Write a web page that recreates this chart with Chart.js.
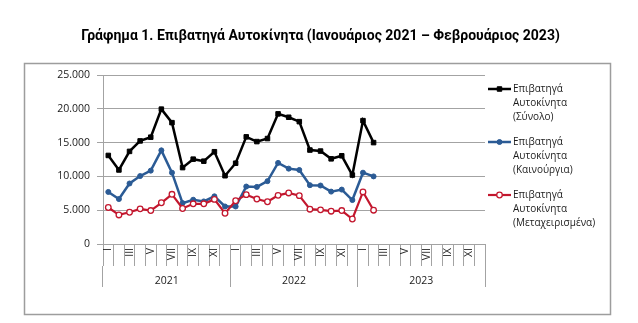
<!DOCTYPE html>
<html>
<head>
<meta charset="utf-8">
<script src="https://cdn.jsdelivr.net/npm/chart.js@4/dist/chart.umd.min.js"></script>
<style>
  html, body { margin: 0; padding: 0; background: #fff; }
  #wrap { width: 638px; height: 323px; position: relative; }
  #title {
    position: absolute; left: 0; top: 27px; width: 641px;
    text-align: center; font: bold 14px Roboto, sans-serif; line-height: 16px;
    color: #000; z-index: 2;
  }
</style>
</head>
<body>
<div id="wrap">
  <div id="title">Γράφημα 1. Επιβατηγά Αυτοκίνητα (Ιανουάριος 2021 – Φεβρουάριος 2023)</div>
  <canvas id="cars"></canvas>
</div>
<script>
// month / year axis labels
const months = ['I', 'II', 'III', 'IV', 'V', 'VI', 'VII', 'VIII', 'IX', 'X', 'XI', 'XII'];
const years = ['2021', '2022', '2023'];
const monthLabels = years.flatMap(() => months);

// Jan 2021 - Feb 2023
const totalCars = [13100, 10950, 13700, 15250, 15800, 19950, 17950, 11300, 12550, 12250, 13650, 10100,
                   11950, 15850, 15150, 15600, 19250, 18750, 18100, 13900, 13750, 12600, 13050, 10200,
                   18250, 15000];
const newCars = [7700, 6650, 8950, 10050, 10850, 13850, 10550, 6050, 6550, 6300, 7050, 5550,
                 5550, 8500, 8450, 9300, 12000, 11150, 10950, 8700, 8650, 7750, 8050, 6500,
                 10550, 10000];
const usedCars = [5400, 4300, 4700, 5200, 4950, 6100, 7350, 5250, 5950, 5950, 6600, 4550,
                  6400, 7300, 6650, 6250, 7200, 7550, 7150, 5150, 5050, 4850, 4950, 3700,
                  7700, 5000];

const seriesNames = [
    ['Επιβατηγά', 'Αυτοκίνητα', '(Σύνολο)'],
    ['Επιβατηγά', 'Αυτοκίνητα', '(Καινούργια)'],
    ['Επιβατηγά', 'Αυτοκίνητα', '(Μεταχειρισμένα)']
];

const gridGray = '#a3a3a3';
const textColor = '#1b1b1b';
const tickFont = { family: 'Open Sans', size: 10.5 };

// white page with the grey frame around the chart
const framePlugin = {
    id: 'frame',
    beforeDraw(chart) {
        const ctx = chart.ctx;
        ctx.save();
        ctx.fillStyle = '#fff';
        ctx.fillRect(0, 0, chart.width, chart.height);
        ctx.strokeStyle = '#9d9d9d';
        ctx.lineWidth = 1.5;
        ctx.strokeRect(24.5, 63.5, 586, 251);
        ctx.restore();
    }
};

// legend on the right, each name split over three lines
const sideLegend = {
    id: 'sideLegend',
    afterDraw(chart) {
        const ctx = chart.ctx;
        const x0 = chart.chartArea.right + 3;
        const lineH = 14;
        ctx.save();
        chart.data.datasets.forEach((ds, i) => {
            const y = 89 + i * 53;
            ctx.strokeStyle = ds.borderColor;
            ctx.lineWidth = ds.borderWidth;
            ctx.beginPath();
            ctx.moveTo(x0, y);
            ctx.lineTo(x0 + 23, y);
            ctx.stroke();
            ctx.fillStyle = ds.pointBackgroundColor;
            ctx.strokeStyle = ds.borderColor;
            ctx.lineWidth = ds.pointBorderWidth;
            Chart.helpers.drawPoint(ctx, {
                pointStyle: ds.pointStyle,
                radius: ds.pointRadius,
                borderWidth: ds.pointBorderWidth
            }, x0 + 11.5, y);
            ctx.fillStyle = textColor;
            ctx.font = '10px "Open Sans"';
            ctx.textBaseline = 'middle';
            ctx.textAlign = 'left';
            seriesNames[i].forEach((t, k) => ctx.fillText(t, x0 + 25, y + k * lineH));
        });
        ctx.restore();
    }
};

new Chart(document.getElementById('cars'), {
    type: 'line',
    data: {
        labels: monthLabels,
        datasets: [
            {
                label: seriesNames[0].join(' '),
                data: totalCars,
                borderColor: '#000',
                backgroundColor: '#000',
                pointBackgroundColor: '#000',
                borderWidth: 2.5,
                pointStyle: 'rect',
                pointRadius: 3.2,
                pointBorderWidth: 1,
                order: 3
            },
            {
                label: seriesNames[1].join(' '),
                data: newCars,
                borderColor: '#2b5b95',
                backgroundColor: '#2b5b95',
                pointBackgroundColor: '#2b5b95',
                borderWidth: 2.5,
                pointStyle: 'circle',
                pointRadius: 2.5,
                pointBorderWidth: 1,
                order: 2
            },
            {
                label: seriesNames[2].join(' '),
                data: usedCars,
                borderColor: '#c3172e',
                backgroundColor: '#fff',
                pointBackgroundColor: '#fff',
                borderWidth: 2.2,
                pointStyle: 'circle',
                pointRadius: 2.8,
                pointBorderWidth: 1.3,
                order: 1
            }
        ]
    },
    options: {
        responsive: true,
        maintainAspectRatio: false,
        animation: false,
        layout: { padding: { left: 0, right: 153, top: 75, bottom: 36 } },
        plugins: {
            legend: { display: false },
            tooltip: { enabled: false },
            title: { display: false }
        },
        scales: {
            x: {
                type: 'category',
                position: 'bottom',
                weight: 0,
                offset: true,
                grid: {
                    offset: true,
                    drawOnChartArea: false,
                    color: gridGray,
                    tickLength: 22
                },
                border: { color: gridGray },
                ticks: {
                    autoSkip: false,
                    minRotation: 90,
                    maxRotation: 90,
                    padding: -18,
                    color: textColor,
                    font: tickFont,
                    callback: (v, i) => (i % 2 === 0 ? monthLabels[i] : '')
                },
                afterFit(scale) { scale.height = 22; }
            },
            years: {
                type: 'category',
                labels: years,
                position: 'bottom',
                weight: 1,
                offset: true,
                grid: {
                    offset: true,
                    drawOnChartArea: false,
                    color: gridGray,
                    tickLength: 21
                },
                border: { display: false },
                ticks: {
                    padding: -12,
                    color: textColor,
                    font: tickFont
                },
                afterFit(scale) { scale.height = 21; }
            },
            y: {
                min: 0,
                max: 25000,
                ticks: {
                    stepSize: 5000,
                    padding: 7,
                    color: textColor,
                    font: tickFont,
                    callback: v => v.toLocaleString('de-DE')
                },
                grid: { color: gridGray, tickLength: 6 },
                border: { color: gridGray },
                afterFit(scale) { scale.width = 103; }
            }
        }
    },
    plugins: [framePlugin, sideLegend]
});
</script>
</body>
</html>
